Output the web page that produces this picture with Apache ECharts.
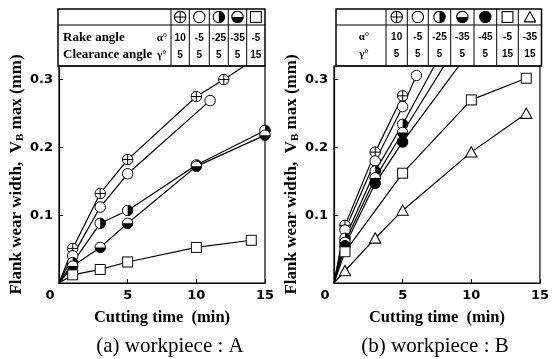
<!DOCTYPE html>
<html><head><meta charset="utf-8">
<script src="https://cdn.jsdelivr.net/npm/echarts@6/dist/echarts.min.js"></script>
<style>html,body{margin:0;padding:0;background:#fff}#c{width:552px;height:359px}</style>
</head><body><div id="c"></div>
<script>
// ---------- DATA ----------
const xTickLabels = ['0','5','10','15'];
const yTickLabels = ['0.1','0.2','0.3'];

// (a) workpiece A
const timeA_pc = [0,1,3,5,10,12,15];  const wearA_pc = [0,0.051,0.132,0.182,0.275,0.300,0.340];
const timeA_oc = [0,1,3,5,11];        const wearA_oc = [0,0.040,0.112,0.161,0.269];
const timeA_hr = [0,1,3,5,10,15];     const wearA_hr = [0,0.030,0.088,0.107,0.174,0.225];
const timeA_hb = [0,1,3,5,10,15];     const wearA_hb = [0,0.025,0.0525,0.088,0.172,0.218];
const timeA_sq = [0,1,3,5,10,14];     const wearA_sq = [0,0.012,0.020,0.031,0.0525,0.063];

// (b) workpiece B
const timeB_pc = [0,0.8,3,5];         const wearB_pc = [0,0.085,0.193,0.276];
const timeB_oc = [0,0.8,3,5,6];       const wearB_oc = [0,0.078,0.180,0.260,0.306];
const timeB_hr = [0,0.8,3,5,10];      const wearB_hr = [0,0.066,0.165,0.234,0.420];
const timeB_hb = [0,0.8,3,5,10];      const wearB_hb = [0,0.060,0.155,0.222,0.385];
const timeB_fc = [0,0.8,3,5,10];      const wearB_fc = [0,0.055,0.147,0.208,0.345];
const timeB_sq = [0,0.8,5,10,14];     const wearB_sq = [0,0.046,0.162,0.270,0.302];
const timeB_tr = [0,0.8,3,5,10,14];   const wearB_tr = [0,0.018,0.066,0.107,0.193,0.250];

const rakeA  = ['10','-5','-25','-35','-5'];
const clearA = ['5','5','5','5','15'];
const rakeB  = ['10','-5','-25','-35','-45','-5','-35'];
const clearB = ['5','5','5','5','5','15','15'];

const captionA = '(a) workpiece : A';
const captionB = '(b) workpiece : B';

// ---------- SYMBOLS ----------
function svg(body){return 'data:image/svg+xml;charset=utf-8,'+encodeURIComponent('<svg xmlns="http://www.w3.org/2000/svg" width="48" height="48" viewBox="0 0 24 24">'+body+'</svg>');}
const S = {
  pc: svg('<circle cx="12" cy="12" r="10.5" fill="#fff" stroke="#000" stroke-width="2"/><path d="M12 1.5V22.5M1.5 12H22.5" stroke="#000" stroke-width="2"/>'),
  oc: svg('<circle cx="12" cy="12" r="10.5" fill="#fff" stroke="#000" stroke-width="2"/>'),
  hr: svg('<circle cx="12" cy="12" r="10.5" fill="#fff" stroke="#000" stroke-width="2"/><path d="M12 1.5A10.5 10.5 0 0 1 12 22.5Z" fill="#000"/>'),
  hb: svg('<circle cx="12" cy="12" r="10.5" fill="#fff" stroke="#000" stroke-width="2"/><path d="M1.5 12A10.5 10.5 0 0 0 22.5 12Z" fill="#000"/>'),
  fc: svg('<circle cx="12" cy="12" r="10.5" fill="#000" stroke="#000" stroke-width="2"/>'),
  sq: svg('<rect x="2" y="2" width="20" height="20" fill="#fff" stroke="#000" stroke-width="2"/>'),
  tr: svg('<path d="M12 2L22.5 21H1.5Z" fill="#fff" stroke="#000" stroke-width="2" stroke-linejoin="miter"/>')
};
const symsA = ['pc','oc','hr','hb','sq'];
const symsB = ['pc','oc','hr','hb','fc','sq','tr'];

function mk(times, vals, key, idx){
  return {
    type:'line', xAxisIndex:idx, yAxisIndex:idx,
    data: times.map((t,i)=> i===0 ? {value:[t,vals[i]], symbol:'none'} : [t,vals[i]]),
    symbol:'image://'+S[key], symbolSize: key==='tr'?13:12, showAllSymbol:true,
    lineStyle:{color:'#000', width:1.2}, itemStyle:{color:'#000'},
    clip:true, animation:false, z:3
  };
}

const serif = '"Liberation Serif","DejaVu Serif",serif';
const sans = '"DejaVu Sans",sans-serif';

function xAx(idx){
  return {type:'value', gridIndex:idx, min:0, max:15, interval:5,
    axisLine:{lineStyle:{color:'#000', width:1.2}},
    axisTick:{inside:true, length:4, lineStyle:{color:'#000'}},
    splitLine:{show:false},
    axisLabel:{color:'#000', fontFamily:sans, fontWeight:'bold', fontSize:13, margin:6,
      formatter:v=>{const s=xTickLabels.find(l=>Math.abs(+l-v)<1e-6); if(s===undefined) return ''; return s==='0'?'{z|0}':s;},
      rich:{z:{padding:[0,18,0,0], fontFamily:sans, fontWeight:'bold', fontSize:13, color:'#000'}}},
    name:'Cutting time  (min)', nameLocation:'middle', nameGap:26,
    nameTextStyle:{color:'#000', fontFamily:serif, fontWeight:'bold', fontSize:16.5}
  };
}
function yAx(idx){
  return {type:'value', gridIndex:idx, min:0, max:0.32, interval:0.1,
    axisLine:{lineStyle:{color:'#000', width:1.2}},
    axisTick:{inside:true, length:4, lineStyle:{color:'#000'}},
    splitLine:{show:false},
    axisLabel:{color:'#000', fontFamily:sans, fontWeight:'bold', fontSize:13, margin:6,
      formatter:v=>{const s=yTickLabels.find(l=>Math.abs(+l-v)<1e-6); return s===undefined?'':s;}},
    name:'Flank wear width,  V{sub|B} max (mm)', nameLocation:'middle', nameGap:25,
    nameTextStyle:{color:'#000', fontFamily:serif, fontWeight:'bold', fontSize:17,
      rich:{sub:{fontFamily:serif, fontWeight:'bold', fontSize:11, verticalAlign:'bottom', padding:[8,0,0,0], color:'#000'}}}
  };
}

// ---------- TABLE (graphic) ----------
const G = [];
function L(x1,y1,x2,y2,w){G.push({type:'line', shape:{x1,y1,x2,y2}, style:{stroke:'#000', lineWidth:w||1}, z:10});}
function T(x,y,text,opt){G.push({type:'text', x, y, z:10, style:Object.assign({text, fill:'#000', align:'center', verticalAlign:'middle'},opt)});}
function I(cx,cy,key,s){G.push({type:'image', x:cx-s/2, y:cy-s/2, z:10, style:{image:S[key], width:s, height:s}});}

function table(x0, x1, cols, yTop, yMid, yBot, syms, rake, clear, r1y, r2y, labelA, labelG, greekX){
  G.push({type:'rect', shape:{x:x0, y:yTop, width:x1-x0, height:yBot-yTop}, style:{fill:'none', stroke:'#000', lineWidth:1.5}, z:10});
  L(x0, yMid, x1, yMid, 1);
  const bounds = cols.concat([x1]);
  cols.forEach(c=>L(c, yTop, c, yBot, 1));
  for(let i=0;i<syms.length;i++){
    const cx=(bounds[i]+bounds[i+1])/2;
    I(cx, (yTop+yMid)/2, syms[i], 13);
    T(cx, r1y, rake[i], {font:'bold 10px "Liberation Sans",sans-serif'});
    T(cx, r2y, clear[i], {font:'bold 10px "Liberation Sans",sans-serif'});
  }
  if(labelA){
    T(x0+5, r1y, labelA, {align:'left', font:'bold 13px '+serif});
    T(x0+5, r2y, labelG, {align:'left', font:'bold 13px '+serif});
  }
  T(greekX, r1y, 'α°', {font:'bold 11px '+serif});
  T(greekX, r2y, 'γ°', {font:'bold 11px '+serif});
}
table(58, 265, [171,189.3,209.3,228.3,246.7], 9, 25, 66, symsA, rakeA, clearA, 38, 55, 'Rake angle', 'Clearance angle', 162);
table(336, 541.5, [386,407.3,428.3,450.7,474,496.7,518.3], 9, 25, 66, symsB, rakeB, clearB, 37, 54, null, null, 364);
T(170, 346, captionA, {font:'21px '+serif});
T(435, 346, captionB, {font:'21px '+serif});

const series = [
  mk(timeA_pc, wearA_pc, 'pc', 0), mk(timeA_oc, wearA_oc, 'oc', 0), mk(timeA_hr, wearA_hr, 'hr', 0),
  mk(timeA_hb, wearA_hb, 'hb', 0), mk(timeA_sq, wearA_sq, 'sq', 0),
  mk(timeB_pc, wearB_pc, 'pc', 1), mk(timeB_oc, wearB_oc, 'oc', 1), mk(timeB_hr, wearB_hr, 'hr', 1),
  mk(timeB_hb, wearB_hb, 'hb', 1), mk(timeB_fc, wearB_fc, 'fc', 1), mk(timeB_sq, wearB_sq, 'sq', 1),
  mk(timeB_tr, wearB_tr, 'tr', 1)
];

const chart = echarts.init(document.getElementById('c'), null, {renderer:'canvas'});
chart.setOption({
  animation:false, backgroundColor:'#fff',
  grid:[
    {left:59, top:66, width:206, height:217, show:true, borderColor:'#000', borderWidth:1.2, backgroundColor:'transparent'},
    {left:334, top:66, width:207, height:217, show:true, borderColor:'#000', borderWidth:1.2, backgroundColor:'transparent'}
  ],
  xAxis:[xAx(0), xAx(1)],
  yAxis:[yAx(0), yAx(1)],
  series,
  graphic: G
});
</script></body></html>
